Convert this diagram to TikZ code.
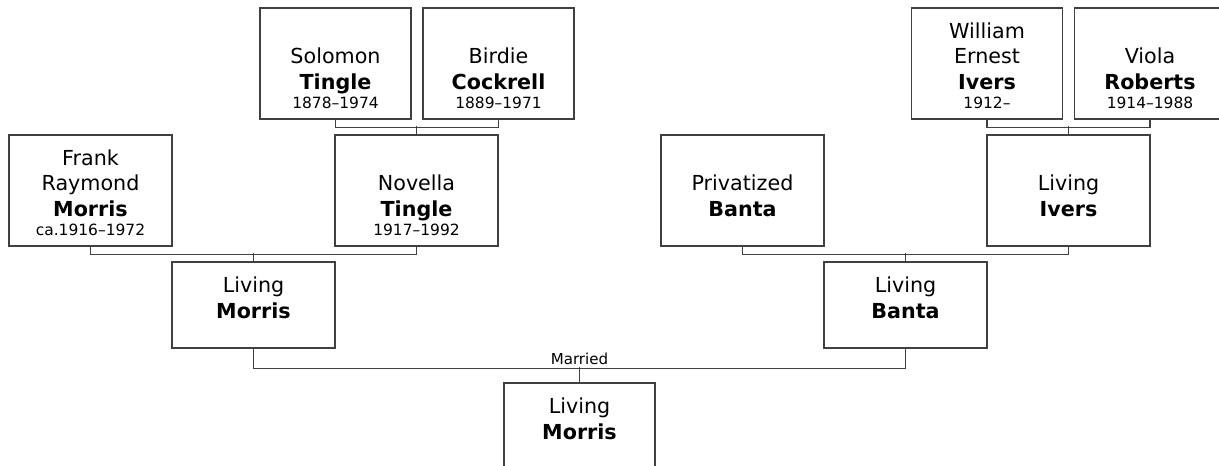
\documentclass[tikz,border=0pt]{standalone}
\usepackage{fontspec}
\setmainfont{DejaVu Sans}
\usetikzlibrary{positioning,calc}
\definecolor{linegray}{HTML}{404040}
\newcommand{\yrs}[1]{{\fontsize{11.6pt}{14pt}\selectfont #1}}
\tikzset{
  personbox/.style={draw=linegray, line width=1pt, inner sep=0pt},
  topbox/.style={personbox, minimum width=113.25pt, minimum height=83.25pt},
  midbox/.style={personbox, minimum width=122.25pt, minimum height=83.25pt},
  lowbox/.style={personbox, minimum width=122.25pt, minimum height=64.5pt},
  childbox/.style={personbox, minimum width=113.25pt, minimum height=64.5pt},
  persontext/.style={anchor=south, align=center, inner sep=0pt, font=\fontsize{15.5pt}{19.1pt}\selectfont},
  link/.style={linegray, line width=1pt},
  marriedlabel/.style={anchor=base, inner sep=0pt, font=\fontsize{11.3pt}{13pt}\selectfont}
}
\begin{document}
\begin{tikzpicture}[x=0.75pt, y=-0.75pt]
  \useasboundingbox (0,0) rectangle (1219,466);
  \clip (0,0) rectangle (1219,466);
  % grandparents
  \node[topbox] (solomon) at (335.5,63.5) {};
  \node[topbox] (birdie) at (498.5,63.5) {};
  \node[topbox] (william) at (987,63.5) {};
  \node[topbox] (viola) at (1150,63.5) {};
  % parents
  \node[midbox] (frank) at (90.5,190.5) {};
  \node[midbox] (novella) at (416.5,190.5) {};
  \node[midbox] (privbanta) at (742.5,190.5) {};
  \node[midbox] (livivers) at (1068.5,190.5) {};
  % couple
  \node[lowbox] (livmorris) at (253.5,305) {};
  \node[lowbox] (livbanta) at (905.5,305) {};
  \node[childbox] (child) at (579.5,426) {};
  % names
  \node[persontext] (solomon-t) at ([yshift=7.9pt]solomon.south) {Solomon\\\textbf{Tingle}\\[-4.5pt]\yrs{1878–1974}};
  \node[persontext] (birdie-t) at ([yshift=7.9pt]birdie.south) {Birdie\\\textbf{Cockrell}\\[-4.5pt]\yrs{1889–1971}};
  \node[persontext] (william-t) at ([yshift=7.9pt]william.south) {William\\Ernest\\\textbf{Ivers}\\[-4.5pt]\yrs{1912–}};
  \node[persontext] (viola-t) at ([yshift=7.9pt]viola.south) {Viola\\\textbf{Roberts}\\[-4.5pt]\yrs{1914–1988}};
  \node[persontext] (frank-t) at ([yshift=7.9pt]frank.south) {Frank\\Raymond\\\textbf{Morris}\\[-4.5pt]\yrs{ca.1916–1972}};
  \node[persontext] (novella-t) at ([yshift=7.9pt]novella.south) {Novella\\\textbf{Tingle}\\[-4.5pt]\yrs{1917–1992}};
  \node[persontext] (privbanta-t) at ([yshift=7.9pt]privbanta.south) {Privatized\\\textbf{Banta}\\[-4.5pt]\yrs{\phantom{0}}};
  \node[persontext] (livivers-t) at ([yshift=7.9pt]livivers.south) {Living\\\textbf{Ivers}\\[-4.5pt]\yrs{\phantom{0}}};
  \node[persontext] (livmorris-t) at ([yshift=7.9pt]livmorris.south) {Living\\\textbf{Morris}\\[-4.5pt]\yrs{\phantom{0}}};
  \node[persontext] (livbanta-t) at ([yshift=7.9pt]livbanta.south) {Living\\\textbf{Banta}\\[-4.5pt]\yrs{\phantom{0}}};
  \node[persontext] (child-t) at ([yshift=7.9pt]child.south) {Living\\\textbf{Morris}\\[-4.5pt]\yrs{\phantom{0}}};
  % family lines
  \draw[link] (solomon.south) -- ++(0,8) -| (birdie.south);
  \draw[link] (novella.north) -- ++(0,-8);
  \draw[link] (william.south) -- ++(0,8) -| (viola.south);
  \draw[link] (livivers.north) -- ++(0,-8);
  \draw[link] (frank.south) -- ++(0,8) -| (novella.south);
  \draw[link] (livmorris.north) -- ++(0,-8);
  \draw[link] (privbanta.south) -- ++(0,8) -| (livivers.south);
  \draw[link] (livbanta.north) -- ++(0,-8);
  \draw[link] (livmorris.south) -- ++(0,20) -| (livbanta.south);
  \draw[link] (child.north) -- ++(0,-15) coordinate (wed);
  \node[marriedlabel] (married) at ([yshift=2.25pt]wed) {Married};
\end{tikzpicture}
\end{document}
